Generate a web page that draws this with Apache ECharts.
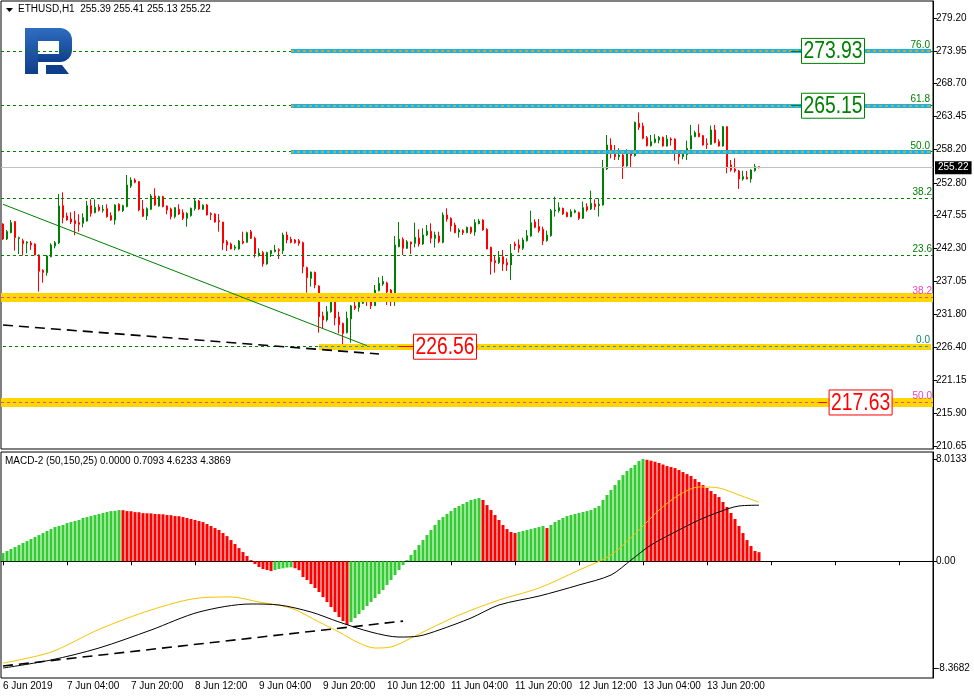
<!DOCTYPE html>
<html>
<head>
<meta charset="utf-8">
<script src="https://cdn.jsdelivr.net/npm/echarts@6/dist/echarts.min.js"></script>
<style>
html, body { margin: 0; padding: 0; background: #fff; }
#chart { width: 974px; height: 696px; }
</style>
</head>
<body>
<div id="chart"></div>
<script>
// ETHUSD H1, first bar 6 Jun 2019 12:00
var opens = [
246.21,243.81,244.82,246.59,243.86,243.54,243.17,243.17,243.01,241.25,
238.79,238.42,240.98,242.69,243.17,249.15,247.49,247.01,246.75,246.43,
246.32,246.69,249.15,248.03,248.93,248.40,248.67,247.55,246.85,249.36,
248.35,248.99,252.30,253.26,252.99,248.61,247.49,248.56,250.70,249.09,
250.59,249.09,248.61,247.39,248.56,248.03,247.12,247.55,248.67,249.90,
248.56,249.26,247.87,247.81,246.75,246.53,243.38,243.01,242.32,242.21,
243.44,243.28,244.98,243.92,241.14,241.62,239.81,241.46,241.78,242.10,
241.94,244.45,243.76,243.65,243.54,243.22,239.22,237.51,238.47,236.28,
231.48,230.84,232.17,233.78,231.32,230.30,228.81,231.00,233.08,232.87,
233.51,234.47,234.15,233.13,235.53,236.60,236.77,235.64,233.77,242.58,
243.76,242.32,243.33,243.12,243.97,243.01,244.45,245.04,243.92,244.29,
243.28,247.65,247.12,246.05,244.93,245.15,244.82,245.68,244.93,246.27,
246.85,245.36,242.47,240.34,240.02,240.98,240.02,239.65,243.01,242.85,
242.32,243.54,244.29,246.53,245.79,245.36,243.54,244.34,248.29,248.35,
248.72,248.03,247.39,248.08,248.03,247.12,248.99,248.61,249.42,249.15,
249.26,255.02,258.86,257.37,256.99,257.26,255.50,257.64,257.16,262.33,
261.91,260.04,258.76,259.29,259.66,260.09,258.70,259.82,259.82,257.64,
256.99,257.32,258.22,260.20,260.73,260.36,259.08,258.97,261.27,259.40,
258.70,261.80,255.66,255.02,254.70,253.42,253.69,253.42,254.75,255.39];
var highs = [
246.32,245.25,246.85,246.69,244.18,243.86,243.44,243.49,243.12,241.36,
238.95,241.25,243.12,243.49,251.02,251.28,248.03,248.08,248.29,247.76,
247.92,249.90,250.16,250.16,249.36,249.26,249.36,248.08,249.36,249.52,
249.31,254.06,253.69,253.53,253.10,250.06,248.88,251.02,251.92,250.75,
250.75,249.20,248.83,248.93,249.36,248.56,248.08,248.83,250.32,250.06,
249.31,249.42,248.08,247.92,247.81,246.53,243.65,243.22,242.85,243.65,
244.98,244.98,245.25,244.18,242.32,241.89,241.78,242.05,242.85,242.32,
244.82,244.98,244.18,243.81,243.81,243.38,239.38,238.58,238.58,236.39,
232.17,233.08,234.04,233.88,232.17,230.41,232.17,233.24,235.11,234.47,
235.00,234.57,234.47,236.44,237.67,237.90,236.97,235.80,244.29,246.53,
244.08,243.65,243.38,246.43,245.36,245.52,246.05,246.32,244.98,244.98,
248.08,248.72,247.28,246.43,245.52,245.36,245.79,245.79,246.96,247.01,
246.96,245.52,242.58,241.25,241.89,242.05,240.72,243.01,243.38,243.76,
244.02,245.25,248.35,246.96,247.01,245.79,245.15,248.61,250.59,249.68,
248.83,248.19,248.56,248.56,248.19,249.79,249.52,251.55,250.16,250.32,
256.46,260.46,259.93,258.86,258.33,257.53,258.17,258.06,262.60,264.09,
262.44,260.30,260.46,260.57,260.30,260.20,260.46,260.09,259.93,257.96,
257.80,259.56,262.07,261.16,262.17,260.46,259.93,261.96,262.07,259.77,
261.91,261.80,256.46,256.73,254.86,254.75,254.70,254.97,255.82,255.41];
var lows = [
243.65,243.65,244.72,241.94,241.41,241.14,241.51,242.05,241.19,235.38,
236.82,237.94,240.87,242.32,243.01,246.32,246.75,246.21,244.40,244.99,
245.68,246.59,247.39,247.92,248.19,248.03,247.23,246.75,246.11,248.24,
248.13,248.88,251.98,252.72,248.24,247.33,246.85,248.45,249.15,248.99,
248.88,247.76,246.96,247.12,247.65,246.85,245.79,247.39,248.35,248.45,
248.45,247.60,246.85,246.43,244.98,242.05,241.89,242.16,242.00,242.10,
242.96,243.22,243.81,240.82,240.98,239.38,239.70,240.93,241.68,240.61,
241.41,243.12,243.12,243.06,242.74,238.31,235.22,236.18,235.91,228.81,
229.50,230.57,232.01,229.98,228.70,226.57,228.70,227.21,232.44,232.17,
233.40,233.08,232.60,233.08,235.43,236.30,233.24,233.08,233.10,242.47,
241.25,242.21,241.41,242.47,242.58,242.85,244.29,243.12,242.42,243.12,
243.12,246.59,244.98,244.72,244.02,244.45,244.72,244.61,244.34,246.16,
245.15,242.16,238.10,238.42,239.81,238.69,238.69,237.24,242.05,241.62,
242.05,243.38,244.18,245.52,244.82,242.85,243.38,244.18,247.39,248.03,
247.65,247.28,247.28,247.92,246.85,247.01,248.19,248.45,248.45,247.39,
249.15,254.86,256.73,256.46,256.46,253.42,255.39,255.23,256.99,261.27,
259.77,258.60,258.60,259.13,259.13,258.60,258.60,258.76,256.35,255.77,
256.57,256.46,258.17,260.09,260.09,258.76,258.22,258.86,259.13,258.60,
258.60,254.33,254.59,254.43,251.82,253.15,253.37,252.83,254.59,255.13];
var closes = [
243.81,244.99,246.43,244.02,244.02,243.06,243.33,242.85,241.25,238.63,
238.47,241.09,242.85,243.22,249.09,247.23,246.85,246.53,246.27,246.16,
247.23,249.15,247.92,248.88,248.40,248.56,247.39,246.85,249.26,248.40,
249.15,252.46,253.26,252.88,248.45,247.44,248.67,250.70,249.26,250.59,
248.99,248.45,247.39,248.83,247.81,247.12,247.92,248.72,249.90,248.61,
249.26,247.65,247.71,246.53,246.59,243.17,242.85,242.21,242.53,243.49,
243.17,244.82,243.92,241.46,241.57,239.81,241.62,241.94,242.05,241.94,
244.45,243.65,243.28,243.22,243.12,239.38,237.62,238.52,236.44,231.37,
230.84,232.17,233.94,231.16,230.09,228.70,231.11,233.08,232.71,233.67,
234.57,234.04,233.13,235.64,236.71,237.00,235.32,233.77,242.85,243.76,
242.32,243.38,243.01,244.08,243.01,244.45,245.09,243.92,244.45,243.38,
247.65,247.01,245.89,244.82,245.25,244.82,245.68,244.88,246.43,246.69,
245.25,242.21,240.18,240.02,240.88,239.81,239.65,241.51,242.74,242.32,
243.65,244.34,246.43,245.68,245.15,243.49,244.45,248.35,248.45,248.83,
247.81,247.39,248.19,248.35,247.12,248.83,248.45,249.52,248.99,249.36,
255.13,258.86,257.53,256.99,257.26,255.50,257.64,257.16,262.49,261.69,
259.93,258.76,259.40,259.82,260.09,258.70,259.82,259.66,257.80,256.99,
257.42,258.33,260.36,260.84,260.20,258.86,258.92,261.27,259.24,258.70,
261.80,255.29,254.86,254.70,253.42,253.79,253.42,254.86,255.39,255.22];

// MACD-2 (50,150,25) histogram, one value per bar
var macdHist = [
0.64,0.80,0.96,1.11,1.27,1.43,1.58,1.74,1.90,2.05,
2.21,2.37,2.52,2.68,2.76,2.84,2.99,3.07,3.15,3.23,
3.39,3.46,3.54,3.62,3.70,3.78,3.86,3.93,3.95,4.01,
4.00,3.93,3.92,3.85,3.84,3.77,3.76,3.75,3.70,3.69,
3.68,3.62,3.61,3.54,3.53,3.46,3.39,3.31,3.23,3.15,
3.07,2.92,2.76,2.60,2.45,2.21,1.97,1.66,1.35,1.03,
0.72,0.41,0.09,-0.22,-0.45,-0.61,-0.69,-0.77,-0.69,-0.61,
-0.55,-0.50,-0.48,-0.55,-0.70,-1.24,-1.47,-1.79,-2.10,-2.41,
-2.81,-3.20,-3.59,-3.98,-4.37,-4.69,-5.00,-4.76,-4.45,-4.14,
-3.82,-3.51,-3.20,-2.88,-2.57,-2.26,-1.86,-1.47,-1.08,-0.69,
-0.30,0.09,0.49,0.88,1.27,1.66,2.05,2.45,2.84,3.23,
3.46,3.70,3.93,4.17,4.33,4.48,4.64,4.80,4.87,4.95,
4.80,4.40,4.01,3.62,3.23,2.84,2.52,2.29,2.21,2.29,
2.37,2.45,2.52,2.60,2.68,2.76,2.60,2.84,3.07,3.23,
3.39,3.54,3.62,3.70,3.78,3.86,3.93,4.01,4.17,4.33,
4.80,5.19,5.58,5.97,6.36,6.75,7.07,7.31,7.55,7.85,
8.01,7.95,7.88,7.80,7.70,7.58,7.46,7.38,7.30,7.15,
6.99,6.83,6.68,6.44,6.21,5.97,5.74,5.50,5.27,5.03,
4.64,4.25,3.78,3.31,2.76,2.21,1.66,1.19,0.80,0.71];
// the two indicator lines, read at [bar index, value]
var macdYellow = [[0,-7.98],[12,-7.12],[24,-5.34],[37,-3.82],[49,-2.88],[57,-2.80],[64,-3.20],
  [72,-3.67],[79,-4.76],[84,-5.55],[89,-6.41],[93,-6.80],[97,-6.72],[102,-6.02],[107,-5.24],
  [114,-4.22],[124,-3.04],[134,-2.10],[144,-0.69],[152,0.49],[159,2.45],[164,4.01],[169,5.19],
  [174,5.82],[179,5.74],[184,5.19],[189,4.62]];
var macdBlack = [[0,-8.37],[12,-7.74],[24,-6.80],[37,-5.39],[49,-3.98],[62,-3.35],[69,-3.43],
  [77,-3.98],[84,-4.76],[92,-5.55],[99,-5.94],[104,-5.86],[109,-5.39],[117,-4.45],[124,-3.43],
  [134,-2.73],[144,-1.86],[152,-1.08],[157,0.09],[162,1.27],[169,2.45],[174,3.23],[179,3.86],
  [184,4.33],[189,4.39]];

var priceTicks = [279.20, 273.95, 268.70, 263.45, 258.20, 252.80, 247.55, 242.30, 237.05, 231.80, 226.40, 221.15, 215.90, 210.65];
var macdTicks = [8.0133, 0, -8.3682];
var macdTickText = ['8.0133', '0.00', '-8.3682'];
var timeLabels = ['6 Jun 2019', '7 Jun 04:00', '7 Jun 20:00', '8 Jun 12:00', '9 Jun 04:00', '9 Jun 20:00',
  '10 Jun 12:00', '11 Jun 04:00', '11 Jun 20:00', '12 Jun 12:00', '13 Jun 04:00', '13 Jun 20:00'];
// price boxes: [bar slot, price, text]
var priceBoxes = [[110.5, 226.56, '226.56'], [214.4, 217.63, '217.63'], [207.5, 273.93, '273.93'], [207.5, 265.15, '265.15']];

var SLOTS = 233; // chart has empty space to the right of the last bar
var FONT = "'Liberation Sans', Arial, sans-serif";

var categories = [];
for (var i = 0; i < SLOTS; i++) {
  var h = 12 + i;
  categories.push((6 + Math.floor(h / 24)) + ' Jun ' + ('0' + (h % 24)).slice(-2) + ':00');
}
var candles = opens.map(function (o, i) { return [o, closes[i], lows[i], highs[i]]; });

var green = '#008000', red = '#ff0000', gold = '#ffd700', sky = '#16b4ee', pink = '#ee3fb0';
var dash = [3, 3];

function seg(a, b, v, style, label) {
  return [{coord: [a, v], lineStyle: style, label: label || {show: false}}, {coord: [b, v]}];
}
function fibLabel(text, color) {
  return {show: true, position: 'insideEndTop', distance: 1, formatter: text, color: color, fontSize: 10, fontFamily: FONT};
}

var levels = [
  {yAxis: 273.93, lineStyle: {color: green, type: dash, width: 1}},
  {yAxis: 265.15, lineStyle: {color: green, type: dash, width: 1}},
  {yAxis: 257.80, lineStyle: {color: green, type: dash, width: 1}},
  {yAxis: 250.33, lineStyle: {color: green, type: dash, width: 1}, label: fibLabel('38.2', green)},
  {yAxis: 241.20, lineStyle: {color: green, type: dash, width: 1}, label: fibLabel('23.6', green)},
  seg(0, 79, 226.56, {color: green, type: dash, width: 1}),
  {yAxis: 255.22, lineStyle: {color: '#c0c0c0', type: 'solid', width: 1},
    label: {show: true, position: 'end', distance: 2, formatter: '255.22', color: '#fff', backgroundColor: '#000',
      padding: [2, 3, 1, 3], fontSize: 10, fontFamily: FONT}},
  {yAxis: 255.22, lineStyle: {opacity: 0}, label: fibLabel('23.6', red)},
  // yellow bands
  {yAxis: 234.44, lineStyle: {color: gold, type: 'solid', width: 9}},
  {yAxis: 234.44, lineStyle: {color: pink, type: dash, width: 1}, label: fibLabel('38.2', pink)},
  seg(79, 232, 226.56, {color: gold, type: 'solid', width: 6}),
  seg(79, 232, 226.56, {color: '#1e90ff', type: dash, width: 1}, fibLabel('0.0', '#0a8a6a')),
  {yAxis: 217.63, lineStyle: {color: gold, type: 'solid', width: 9}},
  {yAxis: 217.63, lineStyle: {color: pink, type: dash, width: 1}, label: fibLabel('50.0', pink)},
  // blue bands
  seg(72, 232, 273.93, {color: sky, type: 'solid', width: 4}),
  seg(72, 232, 273.93, {color: '#ffa500', type: dash, width: 1.5}, fibLabel('76.0', green)),
  seg(72, 232, 265.15, {color: sky, type: 'solid', width: 4}),
  seg(72, 232, 265.15, {color: '#ffa500', type: dash, width: 1.5}, fibLabel('61.8', green)),
  seg(72, 232, 257.70, {color: sky, type: 'solid', width: 4}),
  seg(72, 232, 257.70, {color: '#ffa500', type: dash, width: 1.5}, fibLabel('50.0', green)),
  // trend lines
  [{coord: [0, 249.37], lineStyle: {color: green, type: 'solid', width: 1}}, {coord: [91, 226.72]}],
  [{coord: [0, 230.04], lineStyle: {color: '#000', type: [10, 6], width: 1.6}}, {coord: [94, 225.39]}],
  // connectors to the price boxes
  seg(99, 103, 226.56, {color: red, type: 'solid', width: 1}),
  seg(204, 206, 217.63, {color: red, type: 'solid', width: 1}),
  seg(197, 200, 273.93, {color: green, type: 'solid', width: 1}),
  seg(197, 200, 265.15, {color: green, type: 'solid', width: 1})
];

var logoFill = new echarts.graphic.LinearGradient(0, 0, 0, 1, [{offset: 0, color: '#2f6dc0'}, {offset: 1, color: '#0f3f8c'}]);

var chart = echarts.init(document.getElementById('chart'));
chart.setOption({
  backgroundColor: '#fff',
  animation: false,
  textStyle: {fontFamily: FONT},
  grid: [
    {left: 1, top: 1, width: 932, height: 448, show: true, borderColor: '#000', borderWidth: 1},
    {left: 1, top: 452, width: 932, height: 226, show: true, borderColor: '#000', borderWidth: 1}
  ],
  xAxis: [
    {type: 'category', gridIndex: 0, data: categories, boundaryGap: true,
      axisLine: {show: false}, axisTick: {show: false}, axisLabel: {show: false}, splitLine: {show: false}},
    {type: 'category', gridIndex: 1, data: categories, boundaryGap: true,
      axisLine: {show: true, lineStyle: {color: '#000'}},
      axisTick: {show: true, interval: 15, alignWithLabel: true, length: 4, lineStyle: {color: '#000'}},
      axisLabel: {show: true, interval: 15, align: 'left', margin: 3, color: '#000', fontSize: 10, fontFamily: FONT,
        formatter: function (v, idx) { return idx < opens.length && idx % 16 === 0 ? (timeLabels[idx / 16] || '') : ''; }},
      splitLine: {show: false}}
  ],
  yAxis: [
    {type: 'value', gridIndex: 0, position: 'right', min: 210.18, max: 281.92,
      axisLine: {show: true, lineStyle: {color: '#000'}},
      axisTick: {show: true, length: 4, customValues: priceTicks, lineStyle: {color: '#000'}},
      axisLabel: {show: true, margin: 3, color: '#000', fontSize: 10, fontFamily: FONT, customValues: priceTicks,
        formatter: function (v) { return v.toFixed(2); }},
      splitLine: {show: false}},
    {type: 'value', gridIndex: 1, position: 'right', min: -9.15, max: 8.56,
      axisLine: {show: true, lineStyle: {color: '#000'}},
      axisTick: {show: true, length: 4, customValues: macdTicks, lineStyle: {color: '#000'}},
      axisLabel: {show: true, margin: 3, color: '#000', fontSize: 10, fontFamily: FONT, customValues: macdTicks,
        formatter: function (v) { return macdTickText[macdTicks.indexOf(v)] || ''; }},
      splitLine: {show: false}}
  ],
  series: [
    {name: 'levels', type: 'line', xAxisIndex: 0, yAxisIndex: 0, data: [], z: 1, silent: true,
      markLine: {silent: true, symbol: ['none', 'none'], animation: false, label: {show: false}, data: levels}},
    {name: 'ETHUSD', type: 'candlestick', xAxisIndex: 0, yAxisIndex: 0, data: candles, z: 3,
      barWidth: 2,
      itemStyle: {color: green, color0: red, borderColor: green, borderColor0: red, borderWidth: 1}},
    {name: 'MACD', type: 'bar', xAxisIndex: 1, yAxisIndex: 1, data: macdHist, barWidth: 3, z: 2,
      itemStyle: {color: function (p) {
        var prev = p.dataIndex > 0 ? macdHist[p.dataIndex - 1] : -Infinity;
        return p.value >= prev ? '#33cc33' : red;
      }},
      markLine: {silent: true, symbol: ['none', 'none'], label: {show: false}, data: [
        [{coord: [0, -8.21], lineStyle: {color: '#000', type: [10, 6], width: 1.6}}, {coord: [100, -4.69]}]
      ]}},
    {name: 'signal', type: 'line', xAxisIndex: 1, yAxisIndex: 1, data: macdYellow, smooth: 0.3, symbol: 'none', z: 4,
      lineStyle: {color: '#f5c400', width: 1}},
    {name: 'main', type: 'line', xAxisIndex: 1, yAxisIndex: 1, data: macdBlack, smooth: 0.3, symbol: 'none', z: 4,
      lineStyle: {color: '#000', width: 1}}
  ]
});

// price boxes are placed from their bar slot and price through the chart's own scales
var slotW = chart.convertToPixel({xAxisIndex: 0}, 1) - chart.convertToPixel({xAxisIndex: 0}, 0);
var boxEls = [];
priceBoxes.forEach(function (b) {
  var whole = Math.floor(b[0]);
  var px = chart.convertToPixel({xAxisIndex: 0}, whole) + (b[0] - whole) * slotW;
  var py = chart.convertToPixel({yAxisIndex: 0}, b[1]);
  var color = b[1] < 240 ? red : green;
  boxEls.push({type: 'rect', z: 100, shape: {x: px - 31.5, y: py - 12.5, width: 63, height: 25},
    style: {fill: '#fff', stroke: color, lineWidth: 1}});
  boxEls.push({type: 'text', z: 101, x: px, y: py + 1, scaleX: 0.84,
    style: {text: b[2], fill: color, fontSize: 23, fontFamily: FONT, align: 'center', verticalAlign: 'middle'}});
});

chart.setOption({
  graphic: {elements: [
    {type: 'polygon', shape: {points: [[6, 8], [13, 8], [9.5, 12]]}, style: {fill: '#000'}},
    {type: 'text', x: 18, y: 4, style: {text: 'ETHUSD,H1  255.39 255.41 255.13 255.22', fill: '#000', fontSize: 10, fontFamily: FONT}},
    {type: 'text', x: 5, y: 456, style: {text: 'MACD-2 (50,150,25) 0.0000 0.7093 4.6233 4.3869', fill: '#000', fontSize: 10, fontFamily: FONT}},
    {type: 'rect', shape: {x: 25, y: 28, width: 47, height: 34, r: [0, 12, 12, 0]}, style: {fill: logoFill}},
    {type: 'rect', shape: {x: 25, y: 28, width: 13, height: 46}, style: {fill: logoFill}},
    {type: 'rect', shape: {x: 38, y: 41, width: 21, height: 13}, style: {fill: '#fff'}},
    {type: 'polygon', shape: {points: [[46, 65], [62, 65], [69, 74], [46, 74]]}, style: {fill: '#0f3f8c'}}
  ].concat(boxEls)}
});
</script>
</body>
</html>
